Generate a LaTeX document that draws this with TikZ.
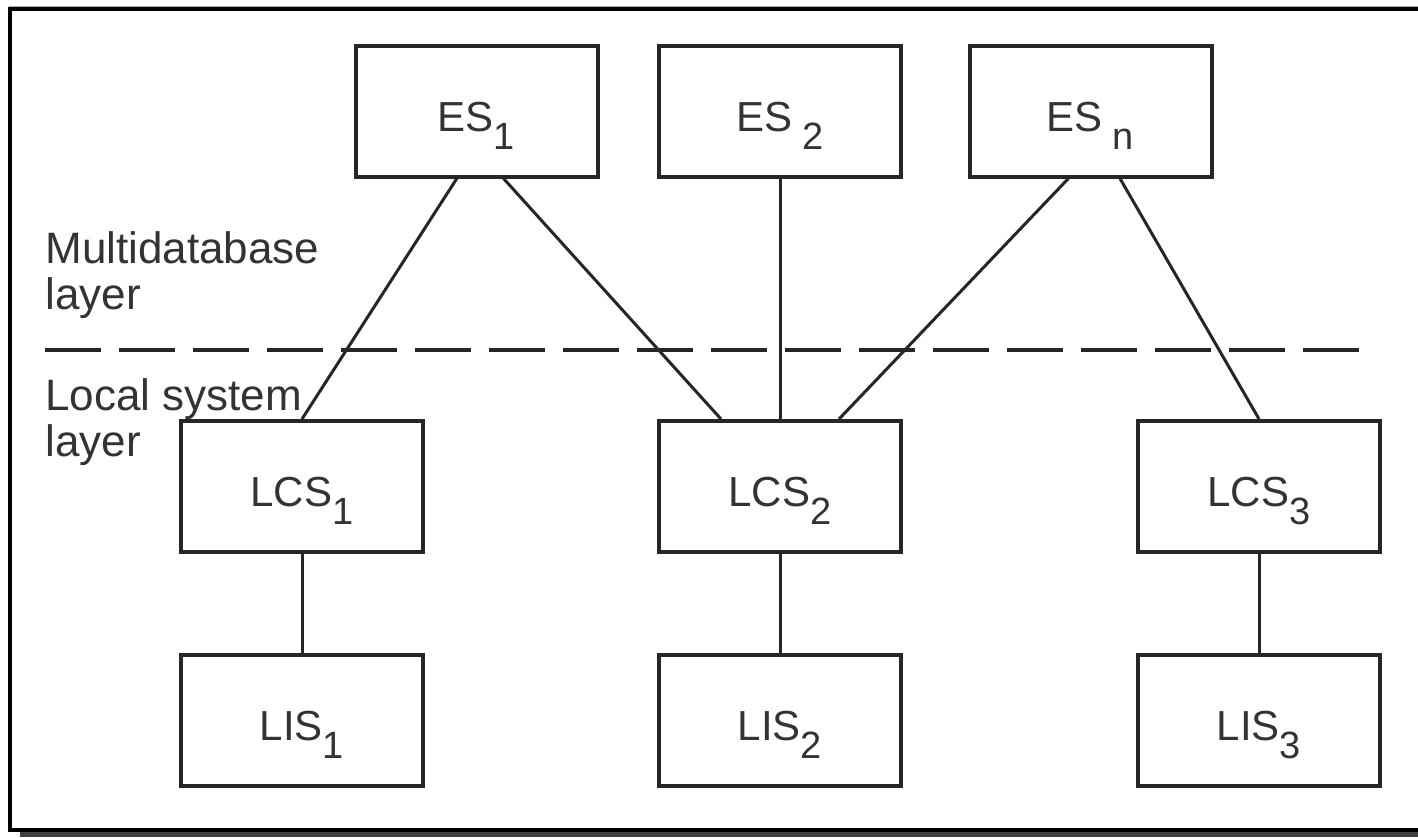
\documentclass[tikz,border=0pt]{standalone}
\usepackage{fontspec}
\setmainfont{Liberation Sans}
\usetikzlibrary{calc}

% box label: name with a lowered index; only the capitals count for centring
\newcommand{\boxlbl}[3][0pt]{\raisebox{-2.5pt}[15pt][0pt]{#2\hspace{#1}\raisebox{-9pt}[0pt][0pt]{\fontsize{19}{19}\selectfont #3}}}

\begin{document}
\begin{tikzpicture}[x=0.5pt,y=-0.5pt,
  unitbox/.style={draw=black!85, line width=2pt, inner sep=0pt,
    minimum width=121pt, minimum height=65.5pt,
    font=\fontsize{21}{21}\selectfont, text=black!80},
  link/.style={draw=black!85, line width=1.5pt},
  layerlabel/.style={inner sep=0pt, anchor=north west, align=left,
    font=\fontsize{22}{23}\selectfont, text=black!80},
  divider/.style={draw=black!85, line width=2pt, dash pattern=on 28pt off 9pt}]

  \useasboundingbox (0,0) rectangle (1418,837);
  \fill[white] (0,0) rectangle (1418,837);

  % framed panel with its drop shadow
  \fill[black!75] (20,832) rectangle (1418,837);
  \draw[black!35, line width=0.5pt] (9,6) -- (1418,6);
  \draw[line width=2pt] (1430,9) -- (10,9) -- (10,830) -- (1430,830);

  % export schemas
  \node[unitbox] (es1) at (476.5,111) {\boxlbl{ES}{1}};
  \node[unitbox] (es2) at (780,111)   {\boxlbl[5pt]{ES}{2}};
  \node[unitbox] (esn) at (1090.5,111) {\boxlbl[5pt]{ES}{n}};

  % local conceptual schemas
  \node[unitbox] (lcs1) at (302,486.5)  {\boxlbl{LCS}{1}};
  \node[unitbox] (lcs2) at (780,486.5)  {\boxlbl{LCS}{2}};
  \node[unitbox] (lcs3) at (1259,486.5) {\boxlbl{LCS}{3}};

  % local internal schemas
  \node[unitbox] (lis1) at (302,720)  {\boxlbl{LIS}{1}};
  \node[unitbox] (lis2) at (780,720)  {\boxlbl{LIS}{2}};
  \node[unitbox] (lis3) at (1259,720) {\boxlbl{LIS}{3}};

  % layer boundary
  \coordinate (divL) at (45,350);
  \coordinate (divR) at (1370,350);
  \draw[divider] (divL) -- (divR);

  \node[layerlabel] (mdb) at (45,231) {Multidatabase\\layer};
  \node[layerlabel] (lsl) at (45,378) {Local system\\layer};

  % schema mappings
  \draw[link] ($(es1.south west)!0.42!(es1.south east)$) -- (lcs1.north);
  \draw[link] ($(es1.south west)!0.61!(es1.south east)$) -- ($(lcs2.north west)!0.26!(lcs2.north east)$);
  \draw[link] (es2.south) -- (lcs2.north);
  \draw[link] ($(esn.south west)!0.41!(esn.south east)$) -- ($(lcs2.north west)!0.74!(lcs2.north east)$);
  \draw[link] ($(esn.south west)!0.62!(esn.south east)$) -- (lcs3.north);

  \draw[link] (lcs1.south) -- (lis1.north);
  \draw[link] (lcs2.south) -- (lis2.north);
  \draw[link] (lcs3.south) -- (lis3.north);
\end{tikzpicture}
\end{document}
